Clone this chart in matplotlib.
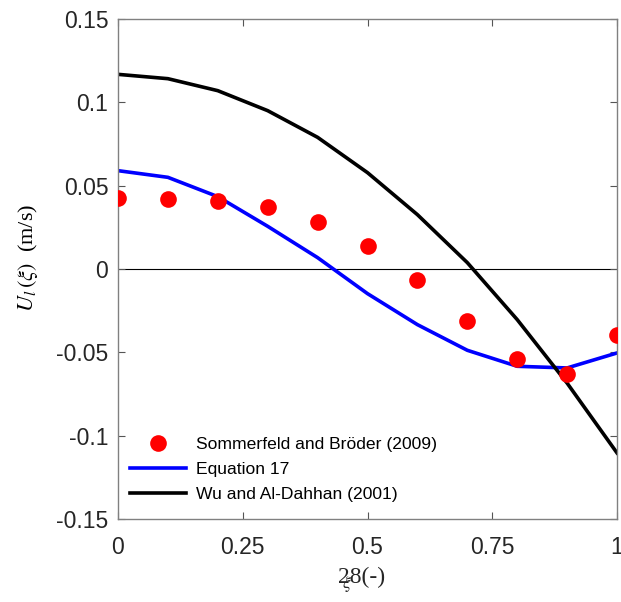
import numpy as np
import matplotlib
matplotlib.use("Agg")
import matplotlib.pyplot as plt

plt.rcParams['font.family'] = ['Liberation Sans', 'DejaVu Sans']
plt.rcParams['mathtext.fontset'] = 'stix'

# Data
xi = [0, 0.1, 0.2, 0.3, 0.4, 0.5, 0.6, 0.7, 0.8, 0.9, 1.0]
u_sommerfeld = [0.0424, 0.0422, 0.0406, 0.0370, 0.0282, 0.0140, -0.0064, -0.0310, -0.0538, -0.0628, -0.0394]
u_eq17 = [0.0590, 0.0550, 0.0434, 0.0256, 0.0068, -0.0148, -0.0334, -0.0488, -0.0584, -0.0594, -0.0504]
u_wu = [0.1168, 0.1142, 0.1070, 0.0950, 0.0790, 0.0578, 0.0326, 0.0038, -0.0304, -0.0685, -0.1104]

xticks = [0, 0.25, 0.5, 0.75, 1]
xticklabels = ['0', '0.25', '0.5', '0.75', '1']
yticks = [-0.15, -0.1, -0.05, 0, 0.05, 0.1, 0.15]
yticklabels = ['-0.15', '-0.1', '-0.05', '0', '0.05', '0.1', '0.15']

fig = plt.figure(figsize=(6.21, 6.02), dpi=100)
ax = fig.add_axes([0.190, 0.138, 0.8036, 0.8304])

ax.axhline(0, color='black', lw=0.8, zorder=1)
ax.plot(xi, u_sommerfeld, 'o', color='red', markersize=12, markeredgewidth=0,
        label='Sommerfeld and Bröder (2009)', zorder=3)
ax.plot(xi, u_eq17, color='blue', lw=2.6, label='Equation 17', zorder=2)
ax.plot(xi, u_wu, color='black', lw=2.6, label='Wu and Al-Dahhan (2001)', zorder=2)

ax.set_xlim(0, 1)
ax.set_ylim(-0.15, 0.15)
ax.set_xticks(xticks)
ax.set_xticklabels(xticklabels)
ax.set_yticks(yticks)
ax.set_yticklabels(yticklabels)
ax.tick_params(direction='in', top=True, right=True, length=5, width=0.8,
               labelsize=16.5, labelcolor='#262626', color='#555555')
ax.tick_params(axis='y', pad=7)
ax.tick_params(axis='x', pad=12)
for s in ax.spines.values():
    s.set_color('#808080')
    s.set_linewidth(1.0)

ax.set_ylabel(r'$U_l\,(\xi)$  (m/s)', fontsize=16, family='Liberation Serif')
ax.yaxis.set_label_coords(-0.156, 0.522)

# garbled x label as in the reference
fig.text(338 / 621, 1 - 577 / 602, '28(-)', fontsize=17, family='Liberation Serif',
         ha='left', va='center', color='#262626')
fig.text(342 / 621, 1 - 584 / 602, r'$\xi$', fontsize=13, ha='left', va='center', color='#262626')

ax.legend(loc='lower left', bbox_to_anchor=(0.0, 0.009), frameon=False, fontsize=12.6,
          handlelength=3.2, handletextpad=0.55, borderaxespad=0.3, labelspacing=0.55,
          numpoints=1)

fig.savefig('out.png', dpi=100)
